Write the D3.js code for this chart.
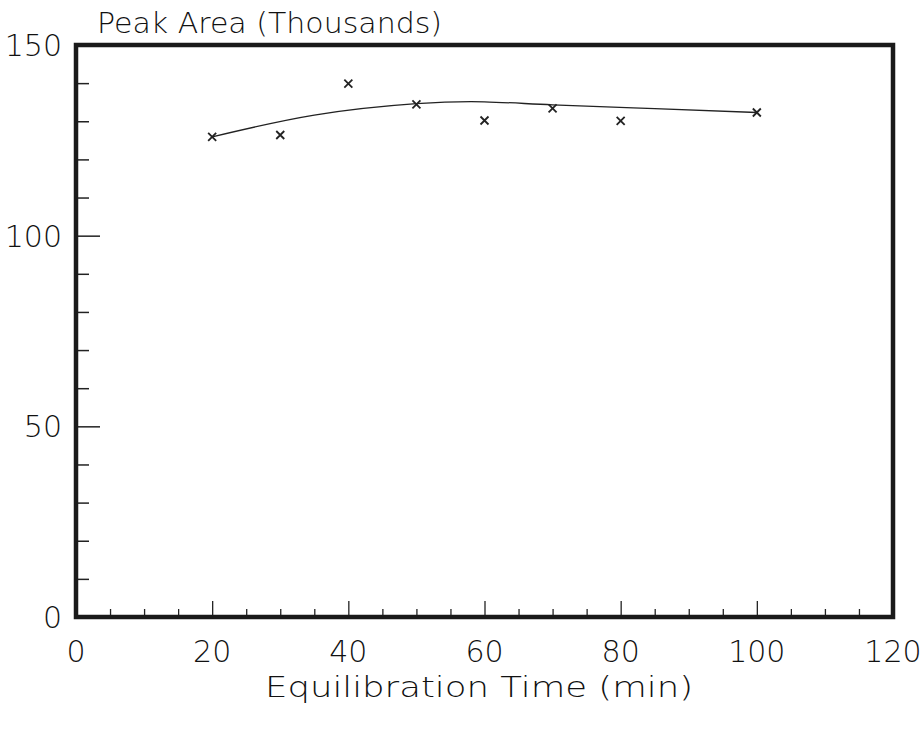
<!DOCTYPE html>
<html>
<head>
<meta charset="utf-8">
<script src="https://cdn.jsdelivr.net/npm/d3@7"></script>
<style>
  body { margin: 0; background: #fff; }
  text { font-family: "DejaVu Sans", sans-serif; font-weight: 200; fill: #111; }
</style>
</head>
<body>
<div id="chart"></div>
<script>
// measured points (equilibration time in min, peak area in thousands)
var times = [20, 30, 40, 50, 60, 70, 80, 100];
var areas = [125.9, 126.4, 139.9, 134.4, 130.2, 133.4, 130.1, 132.3];
// fitted curve
var fitTimes = [20, 35, 50, 60, 70, 85, 100];
var fitAreas = [125.9, 131.6, 134.6, 135.1, 134.3, 133.3, 132.3];
var xTicks = [0, 20, 40, 60, 80, 100, 120];
var yTicks = [0, 50, 100, 150];

var width = 921, height = 733;
var margin = {top: 45, right: 28, bottom: 116, left: 76};

var svg = d3.select("#chart").append("svg")
  .attr("width", width)
  .attr("height", height);

var x = d3.scaleLinear().domain([0, 120]).range([margin.left, width - margin.right]);
var y = d3.scaleLinear().domain([0, 150]).range([height - margin.bottom, margin.top]);

//minor ticks
svg.append("g")
  .attr("transform", "translate(0," + y(0) + ")")
  .call(d3.axisBottom(x).tickValues(d3.range(5, 120, 5).filter(function(d){ return d % 20 != 0; }))
    .tickSize(-8).tickFormat(""))
  .call(function(g){ g.select(".domain").remove(); })
  .selectAll("line").attr("stroke", "#222").attr("stroke-width", 1.3);
svg.append("g")
  .attr("transform", "translate(0," + y(0) + ")")
  .call(d3.axisBottom(x).tickValues([20, 40, 60, 80, 100]).tickSize(-16).tickFormat(""))
  .call(function(g){ g.select(".domain").remove(); })
  .selectAll("line").attr("stroke", "#222").attr("stroke-width", 1.3);

svg.append("g")
  .attr("transform", "translate(" + x(0) + ",0)")
  .call(d3.axisLeft(y).tickValues(d3.range(10, 150, 10).filter(function(d){ return d % 50 != 0; }))
    .tickSize(-13).tickFormat(""))
  .call(function(g){ g.select(".domain").remove(); })
  .selectAll("line").attr("stroke", "#222").attr("stroke-width", 1.5);
svg.append("g")
  .attr("transform", "translate(" + x(0) + ",0)")
  .call(d3.axisLeft(y).tickValues([50, 100]).tickSize(-24).tickFormat(""))
  .call(function(g){ g.select(".domain").remove(); })
  .selectAll("line").attr("stroke", "#222").attr("stroke-width", 1.5);

//tick labels
svg.append("g").selectAll("text")
  .data(xTicks).enter().append("text")
  .attr("x", function(d){ return x(d); })
  .attr("y", y(0) + 45)
  .attr("text-anchor", "middle")
  .attr("font-size", 30)
  .text(function(d){ return d; });

svg.append("g").selectAll("text")
  .data(yTicks).enter().append("text")
  .attr("x", 62)
  .attr("y", function(d){ return y(d) + 11; })
  .attr("text-anchor", "end")
  .attr("font-size", 30)
  .text(function(d){ return d; });

//frame
svg.append("rect")
  .attr("x", x(0)).attr("y", y(150))
  .attr("width", x(120) - x(0)).attr("height", y(0) - y(150))
  .attr("fill", "none").attr("stroke", "#1a1a1a").attr("stroke-width", 4.5);

//fit curve
var line = d3.line()
  .x(function(d){ return x(d[0]); })
  .y(function(d){ return y(d[1]); })
  .curve(d3.curveNatural);
svg.append("path")
  .datum(d3.zip(fitTimes, fitAreas))
  .attr("d", line)
  .attr("fill", "none").attr("stroke", "#222").attr("stroke-width", 1.3);

//markers
svg.append("g").selectAll("path")
  .data(d3.zip(times, areas)).enter().append("path")
  .attr("transform", function(d){ return "translate(" + x(d[0]) + "," + y(d[1]) + ")"; })
  .attr("d", "M-4,-4L4,4M-4,4L4,-4")
  .attr("stroke", "#222").attr("stroke-width", 1.8);

//titles
svg.append("text")
  .attr("x", 97).attr("y", 33)
  .attr("font-size", 29)
  .attr("textLength", 345)
  .attr("lengthAdjust", "spacingAndGlyphs")
  .text("Peak Area (Thousands)");

svg.append("text")
  .attr("x", 265).attr("y", 697)
  .attr("font-size", 28)
  .attr("textLength", 428)
  .attr("lengthAdjust", "spacingAndGlyphs")
  .text("Equilibration Time (min)");
</script>
</body>
</html>
